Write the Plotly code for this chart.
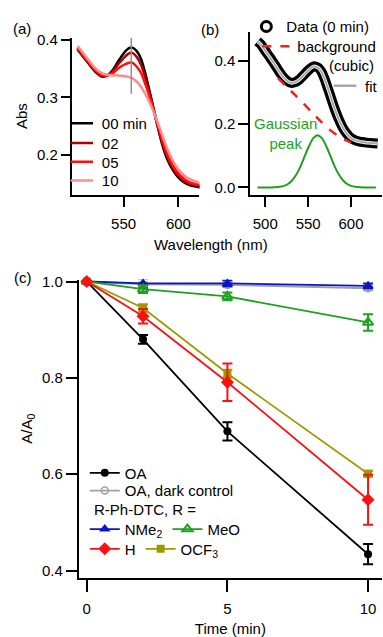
import plotly.graph_objects as go

FONT = "Liberation Sans, Arial, sans-serif"
W, H = 383, 637

# ---------------- (a) spectra vs time ----------------
a_wl = [508, 515, 520, 525, 530, 535, 540, 545, 550, 555, 558, 562, 566, 570,
        575, 580, 585, 590, 595, 600, 605, 610, 615, 620]
a_00 = [0.383, 0.366, 0.354, 0.343, 0.336, 0.338, 0.347, 0.362, 0.376, 0.385, 0.386, 0.380,
        0.366, 0.340, 0.300, 0.258, 0.220, 0.192, 0.174, 0.161, 0.153, 0.148, 0.146, 0.144]
a_02 = [0.384, 0.367, 0.355, 0.344, 0.337, 0.338, 0.345, 0.357, 0.368, 0.376, 0.377, 0.370,
        0.356, 0.333, 0.297, 0.259, 0.223, 0.196, 0.177, 0.164, 0.155, 0.150, 0.148, 0.146]
a_05 = [0.386, 0.369, 0.357, 0.346, 0.339, 0.338, 0.342, 0.350, 0.356, 0.360, 0.360, 0.353,
        0.342, 0.322, 0.293, 0.260, 0.228, 0.201, 0.182, 0.168, 0.159, 0.153, 0.150, 0.148]
a_10 = [0.389, 0.372, 0.360, 0.349, 0.342, 0.339, 0.338, 0.338, 0.337, 0.335, 0.333, 0.327,
        0.318, 0.305, 0.286, 0.262, 0.236, 0.210, 0.190, 0.175, 0.165, 0.159, 0.155, 0.152]
a_labels = ["00 min", "02", "05", "10"]
a_colors = ["#000000", "#b00000", "#ff1010", "#ff8c8c"]
a_cursor_wl = [557, 557]
a_cursor_abs = [0.306, 0.403]

# ---------------- (b) fit of 0 min spectrum ----------------
b_wl = [491, 495, 500, 505, 510, 515, 520, 525, 530, 535, 540, 545, 550, 555, 558, 562,
        566, 570, 575, 580, 585, 590, 595, 600, 605, 610, 615, 620, 625, 631]
b_data = [0.462, 0.452, 0.432, 0.413, 0.393, 0.372, 0.352, 0.338, 0.331, 0.333, 0.342,
          0.356, 0.370, 0.381, 0.383, 0.378, 0.364, 0.337, 0.297, 0.256, 0.220, 0.191,
          0.170, 0.156, 0.149, 0.145, 0.143, 0.141, 0.140, 0.139]
b_fit = [0.462, 0.452, 0.432, 0.413, 0.393, 0.372, 0.352, 0.338, 0.331, 0.333, 0.342,
         0.356, 0.370, 0.381, 0.383, 0.378, 0.364, 0.337, 0.297, 0.256, 0.220, 0.191,
         0.170, 0.156, 0.149, 0.145, 0.143, 0.141, 0.140, 0.139]
b_bg_wl = [515, 525, 535, 545, 555, 565, 575, 585, 595, 600]
b_bg = [0.345, 0.318, 0.292, 0.264, 0.236, 0.208, 0.183, 0.163, 0.148, 0.143]
b_g_wl = [491, 511, 521, 526, 531, 536, 541, 546, 551, 556, 561, 566, 571, 576, 581,
          586, 591, 596, 601, 611, 629]
b_g = [0.000, 0.0005, 0.004, 0.010, 0.021, 0.040, 0.066, 0.099, 0.131, 0.156, 0.165,
       0.156, 0.131, 0.099, 0.066, 0.040, 0.021, 0.010, 0.004, 0.0005, 0.000]

# ---------------- (c) kinetics ----------------
t = [0, 2, 5, 10]
oa = [1.0, 0.880, 0.689, 0.434]
oa_err = [0.0, 0.009, 0.019, 0.021]
dark = [1.0, 0.994, 0.993, 0.986]
dark_err = [0.0, 0.004, 0.004, 0.004]
nme2 = [1.0, 0.996, 0.996, 0.991]
nme2_err = [0.0, 0.010, 0.006, 0.005]
meo = [1.0, 0.984, 0.969, 0.915]
meo_err = [0.0, 0.008, 0.008, 0.017]
h_ = [1.0, 0.928, 0.791, 0.547]
h_err = [0.0, 0.015, 0.039, 0.052]
ocf3 = [1.0, 0.945, 0.809, 0.601]
ocf3_err = [0.0, 0.008, 0.008, 0.006]


def PX(x):
    return x / W


def PY(y):
    return 1 - y / H


fig = go.Figure()

# ----- (a) traces -----
for name, vals, col in zip(a_labels, [a_00, a_02, a_05, a_10], a_colors):
    fig.add_trace(go.Scatter(x=a_wl, y=vals, mode="lines", name=name,
                             line=dict(color=col, width=2.5, shape="spline", smoothing=0.8),
                             showlegend=False, xaxis="x", yaxis="y"))
fig.add_trace(go.Scatter(x=a_cursor_wl, y=a_cursor_abs, mode="lines",
                         line=dict(color="#909090", width=1.5), showlegend=False,
                         xaxis="x", yaxis="y"))
a_leg = ["legend", "legend2", "legend3", "legend4"]
for name, col, lg in zip(a_labels, a_colors, a_leg):
    fig.add_trace(go.Scatter(x=[None], y=[None], mode="markers", name=name, legend=lg,
                             marker=dict(symbol="line-ew", size=16, color=col,
                                         line=dict(width=2.5, color=col)),
                             xaxis="x", yaxis="y"))

# ----- (b) traces -----
fig.add_trace(go.Scatter(x=b_wl, y=b_data, mode="lines", showlegend=False,
                         line=dict(color="black", width=10, shape="spline", smoothing=0.8),
                         xaxis="x2", yaxis="y2"))
fig.add_trace(go.Scatter(x=b_wl, y=b_data, mode="lines", showlegend=False,
                         line=dict(color="white", width=3.5, shape="spline", smoothing=0.8),
                         xaxis="x2", yaxis="y2"))
fig.add_trace(go.Scatter(x=b_bg_wl, y=b_bg, mode="lines", name="background",
                         legend="legend6",
                         line=dict(color="#ff1a1a", width=2.5, dash="dash",
                                   shape="spline", smoothing=0.8),
                         xaxis="x2", yaxis="y2"))
fig.add_trace(go.Scatter(x=b_wl, y=b_fit, mode="lines", name="fit", showlegend=False,
                         line=dict(color="#a8a8a8", width=2, shape="spline", smoothing=0.8),
                         xaxis="x2", yaxis="y2"))
fig.add_trace(go.Scatter(x=b_g_wl, y=b_g, mode="lines", name="Gaussian peak",
                         showlegend=False,
                         line=dict(color="#1fa01f", width=2, shape="spline", smoothing=0.8),
                         xaxis="x2", yaxis="y2"))
fig.add_trace(go.Scatter(x=[None], y=[None], mode="markers", name="Data (0 min)",
                         legend="legend5",
                         marker=dict(symbol="circle-open", size=10, color="black",
                                     line=dict(width=3, color="black")),
                         xaxis="x2", yaxis="y2"))
fig.add_trace(go.Scatter(x=[None], y=[None], mode="markers", name="fit",
                         legend="legend7",
                         marker=dict(symbol="line-ew", size=16, color="#a8a8a8",
                                     line=dict(width=2.5, color="#a8a8a8")),
                         xaxis="x2", yaxis="y2"))


# ----- (c) traces -----
def series(y, err, name, color, symbol, size, lg, rank, mlw=0):
    return go.Scatter(
        x=t, y=y, name=name, legend=lg, legendrank=rank, mode="lines+markers",
        cliponaxis=False,
        line=dict(color=color, width=1.8),
        marker=dict(symbol=symbol, size=size, color=color,
                    line=dict(width=mlw, color=color)),
        error_y=dict(type="data", array=err, visible=True, color=color,
                     thickness=2, width=5),
        xaxis="x3", yaxis="y3")


fig.add_trace(series(dark, dark_err, "OA, dark control", "#a0a0a0", "circle-open", 7,
                     "legend9", 1, 1.5))
fig.add_trace(series(nme2, nme2_err, "NMe<sub>2</sub>", "#0a14c8", "triangle-up", 10,
                     "legend10", 1))
fig.add_trace(series(meo, meo_err, "MeO", "#1fa01f", "triangle-up-open", 9,
                     "legend10", 2, 2))
fig.add_trace(series(oa, oa_err, "OA", "#000000", "circle", 8, "legend8", 1))
fig.add_trace(series(ocf3, ocf3_err, "OCF<sub>3</sub>", "#9c9a00", "square", 8,
                     "legend11", 2))
fig.add_trace(series(h_, h_err, "H", "#ff1010", "diamond", 10, "legend11", 1))

# ----- axes -----
axis_common = dict(showline=True, linecolor="black", linewidth=2, ticks="outside",
                   tickwidth=2, tickcolor="black", showgrid=False, zeroline=False,
                   tickfont=dict(family=FONT, size=15, color="black"), mirror=False,
                   fixedrange=True)

lay = dict(
    width=W, height=H, autosize=False,
    margin=dict(l=0, r=0, t=0, b=0, pad=0),
    paper_bgcolor="white", plot_bgcolor="white",
    font=dict(family=FONT, size=15, color="black"),
    xaxis=dict(domain=[PX(72), PX(200)], range=[502.8, 619.2], tickvals=[550, 600],
               ticklen=10, ticklabelstandoff=4, anchor="y", **axis_common),
    yaxis=dict(domain=[PY(190), PY(31)], range=[0.1316, 0.4034], tickvals=[0.2, 0.3, 0.4],
               tickformat=".1f", ticklen=9, anchor="x",
               title=dict(text="Abs", font=dict(family=FONT, size=15), standoff=6),
               **axis_common),
    xaxis2=dict(domain=[PX(251), 1.0], range=[482.6, 636.1], tickvals=[500, 550, 600],
                ticklen=10, ticklabelstandoff=4, anchor="y2", **axis_common),
    yaxis2=dict(domain=[PY(190), PY(25)], range=[-0.0228, 0.4928], tickvals=[0.0, 0.2, 0.4],
                tickformat=".1f", ticklen=10, anchor="x2", **axis_common),
    xaxis3=dict(domain=[PX(79), 1.0], range=[-0.284, 10.496], tickvals=[0, 5, 10],
                ticklen=12, ticklabelstandoff=4, anchor="y3",
                title=dict(text="Time (min)", font=dict(family=FONT, size=15), standoff=9),
                **axis_common),
    yaxis3=dict(domain=[PY(578), PY(276)], range=[0.3852, 1.0041],
                tickvals=[0.4, 0.6, 0.8, 1.0], tickformat=".1f", ticklen=11, anchor="x3",
                title=dict(text="A/A<sub>0</sub>", font=dict(family=FONT, size=15),
                           standoff=6),
                **axis_common),
    showlegend=True,
)


def leg(xpx, ypx, orient="v"):
    return dict(x=PX(xpx), y=PY(ypx), xanchor="left", yanchor="middle",
                bgcolor="rgba(0,0,0,0)", borderwidth=0, orientation=orient,
                font=dict(family=FONT, size=15, color="black"),
                itemclick=False, itemdoubleclick=False)


# (a) legends
a_rows = [118, 138, 157, 176]
for lg, yy in zip(a_leg, a_rows):
    lay[lg] = leg(62, yy)
# (b) legends
lay["legend5"] = leg(247, 20)
lay["legend6"] = leg(258, 40)
lay["legend7"] = leg(326, 80)
# (c) legends
lay["legend8"] = leg(85, 472)
lay["legend9"] = leg(85, 490)
lay["legend10"] = leg(85, 529, "h")
lay["legend11"] = leg(85, 549, "h")

ann = []


def txt(x, y, s, xanchor="center", color="black", angle=0):
    ann.append(dict(x=PX(x), y=PY(y), xref="paper", yref="paper", text=s,
                    showarrow=False, xanchor=xanchor, yanchor="middle",
                    textangle=angle, font=dict(family=FONT, size=15, color=color)))


txt(22, 22, "(a)")
txt(211, 23, "(b)")
txt(23, 274, "(c)")
txt(212, 241, "Wavelength (nm)")
txt(377, 59, "(cubic)", xanchor="right")
txt(286, 128, "Gaussian<br>peak", color="#1fa01f")
txt(92, 509, "R-Ph-DTC, R =", xanchor="left")
lay["annotations"] = ann

fig.update_layout(**lay)
fig.write_html("out.html")
